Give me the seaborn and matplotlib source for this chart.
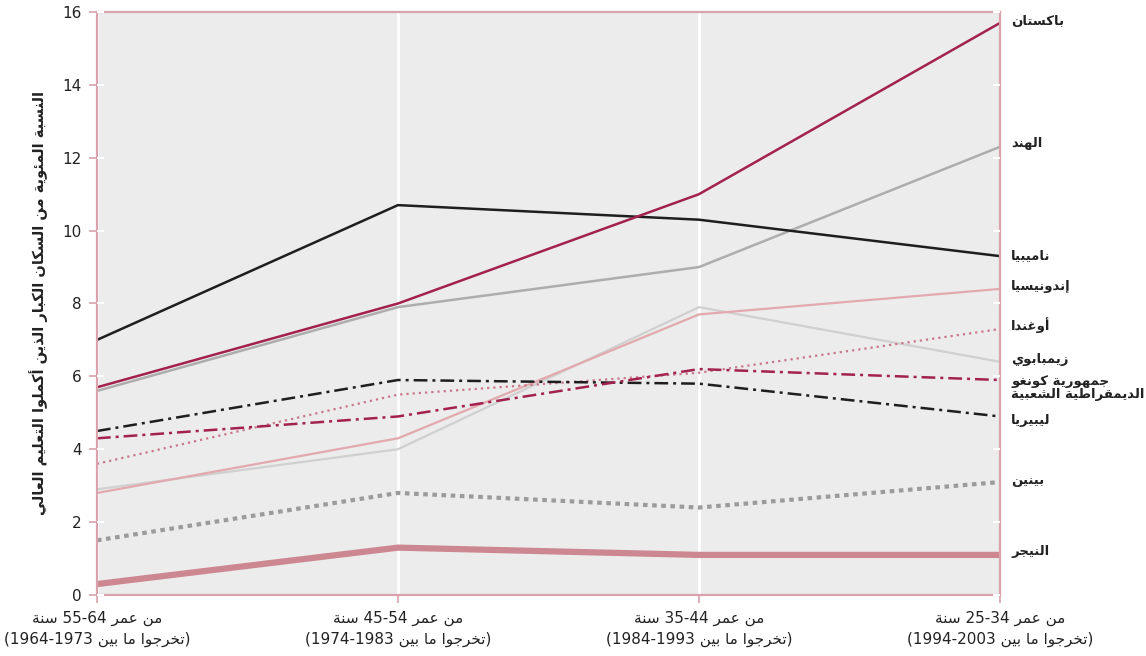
import re
import matplotlib
matplotlib.use('Agg')
import matplotlib.pyplot as plt
import pandas as pd
import seaborn as sns

# age groups (oldest -> youngest), values per country
groups = ['55-64', '45-54', '35-44', '25-34']
group_labels = [
    ('من عمر 55-64 سنة', '(تخرجوا ما بين 1964-1973)'),
    ('من عمر 45-54 سنة', '(تخرجوا ما بين 1974-1983)'),
    ('من عمر 35-44 سنة', '(تخرجوا ما بين 1984-1993)'),
    ('من عمر 25-34 سنة', '(تخرجوا ما بين 1994-2003)'),
]

countries = ['Niger', 'Benin', 'Zimbabwe', 'Indonesia', 'Uganda', 'Liberia',
             'Congo', 'India', 'Namibia', 'Pakistan']
country_names = {
    'Pakistan': ['باكستان'],
    'India': ['الهند'],
    'Namibia': ['ناميبيا'],
    'Indonesia': ['إندونيسيا'],
    'Uganda': ['أوغندا'],
    'Zimbabwe': ['زيمبابوي'],
    'Congo': ['جمهورية كونغو', 'الديمقراطية الشعبية'],
    'Liberia': ['ليبيريا'],
    'Benin': ['بينين'],
    'Niger': ['النيجر'],
}
pakistan = [5.7, 8.0, 11.0, 15.7]
india = [5.6, 7.9, 9.0, 12.3]
namibia = [7.0, 10.7, 10.3, 9.3]
indonesia = [2.8, 4.3, 7.7, 8.4]
uganda = [3.6, 5.5, 6.1, 7.3]
zimbabwe = [2.9, 4.0, 7.9, 6.4]
congo = [4.3, 4.9, 6.2, 5.9]
liberia = [4.5, 5.9, 5.8, 4.9]
benin = [1.5, 2.8, 2.4, 3.1]
niger = [0.3, 1.3, 1.1, 1.1]
values = {'Pakistan': pakistan, 'India': india, 'Namibia': namibia,
          'Indonesia': indonesia, 'Uganda': uganda, 'Zimbabwe': zimbabwe,
          'Congo': congo, 'Liberia': liberia, 'Benin': benin, 'Niger': niger}

ylabel = 'النسبة المئوية من السكان الكبار الذين أكملوا التعليم العالي'

# styling per country
colors = {'Pakistan': '#A3214F', 'India': '#ADADAD', 'Namibia': '#1E1E1E',
          'Indonesia': '#E2A9AE', 'Uganda': '#C8788A', 'Zimbabwe': '#D0D0D0',
          'Congo': '#A3214F', 'Liberia': '#1E1E1E', 'Benin': '#9B9B9B',
          'Niger': '#CC8790'}
widths = {'Pakistan': 1.8, 'India': 1.8, 'Namibia': 1.8, 'Indonesia': 1.6,
          'Uganda': 1.6, 'Zimbabwe': 1.6, 'Congo': 1.8, 'Liberia': 1.8,
          'Benin': 3.0, 'Niger': 4.5}
styles = {'Uganda': (0, (1, 1.8)), 'Benin': (0, (1.1, 1.1)),
          'Congo': (0, (5.5, 2, 1.2, 2)), 'Liberia': (0, (5.5, 2, 1.2, 2))}
label_y = {'Pakistan': 15.75, 'India': 12.38, 'Namibia': 9.33, 'Indonesia': 8.48,
           'Uganda': 7.41, 'Zimbabwe': 6.45, 'Congo': 5.68, 'Liberia': 4.8,
           'Benin': 3.13, 'Niger': 1.2}

# --- minimal arabic shaping (matplotlib has no bidi / shaping) ---
AR_FORMS = {
    'ء': (0xFE80, 1), 'آ': (0xFE81, 2), 'أ': (0xFE83, 2), 'ؤ': (0xFE85, 2),
    'إ': (0xFE87, 2), 'ئ': (0xFE89, 4), 'ا': (0xFE8D, 2), 'ب': (0xFE8F, 4),
    'ة': (0xFE93, 2), 'ت': (0xFE95, 4), 'ث': (0xFE99, 4), 'ج': (0xFE9D, 4),
    'ح': (0xFEA1, 4), 'خ': (0xFEA5, 4), 'د': (0xFEA9, 2), 'ذ': (0xFEAB, 2),
    'ر': (0xFEAD, 2), 'ز': (0xFEAF, 2), 'س': (0xFEB1, 4), 'ش': (0xFEB5, 4),
    'ص': (0xFEB9, 4), 'ض': (0xFEBD, 4), 'ط': (0xFEC1, 4), 'ظ': (0xFEC5, 4),
    'ع': (0xFEC9, 4), 'غ': (0xFECD, 4), 'ف': (0xFED1, 4), 'ق': (0xFED5, 4),
    'ك': (0xFED9, 4), 'ل': (0xFEDD, 4), 'م': (0xFEE1, 4), 'ن': (0xFEE5, 4),
    'ه': (0xFEE9, 4), 'و': (0xFEED, 2), 'ى': (0xFEEF, 2), 'ي': (0xFEF1, 4),
}
LAM_ALEF = {'آ': 0xFEF5, 'أ': 0xFEF7, 'إ': 0xFEF9, 'ا': 0xFEFB}


def shape(text):
    units = []
    i = 0
    while i < len(text):
        c = text[i]
        if c == 'ل' and i + 1 < len(text) and text[i + 1] in LAM_ALEF:
            units.append((LAM_ALEF[text[i + 1]], 2))
            i += 2
        elif c in AR_FORMS:
            units.append(AR_FORMS[c])
            i += 1
        else:
            units.append(c)
            i += 1
    out = []
    for k, u in enumerate(units):
        if isinstance(u, str):
            out.append(u)
            continue
        code, n = u
        prev = units[k - 1] if k > 0 else None
        nxt = units[k + 1] if k + 1 < len(units) else None
        jp = n > 1 and isinstance(prev, tuple) and prev[1] == 4
        jn = n == 4 and isinstance(nxt, tuple) and nxt[1] > 1
        off = 3 if (jp and jn) else 1 if jp else 2 if jn else 0
        out.append(chr(code + off))
    return ''.join(out)


def ar(text):
    lines = []
    for line in text.split('\n'):
        toks = re.findall(r'[0-9][0-9\-]*[0-9]|.', shape(line))
        mirror = {'(': ')', ')': '('}
        lines.append(''.join(mirror.get(t, t) for t in reversed(toks)))
    return '\n'.join(lines)


sns.set_style('whitegrid', {'axes.facecolor': '#ECECEC', 'grid.color': 'white'})
plt.rcParams['font.family'] = ['DejaVu Sans']

rows = []
for c in countries:
    for g, v in zip(groups, values[c]):
        rows.append({'country': c, 'group': g, 'value': v})
df = pd.DataFrame(rows)

fig = plt.figure(figsize=(11.46, 6.56), dpi=100)
ax = fig.add_axes([0.0846, 0.093, 0.7880, 0.8887])

for c in countries:
    sub = df[df['country'] == c]
    sns.lineplot(data=sub, x='group', y='value', ax=ax, color=colors[c],
                 linewidth=widths[c], linestyle=styles.get(c, '-'),
                 sort=False, legend=False)

ax.set_xlim(0, 3)
ax.set_ylim(0, 16)
ax.set_yticks(range(0, 17, 2))
ax.set_xticks(range(4))
ax.set_xticklabels([ar(a) + '\n' + ar(b) for a, b in group_labels],
                   fontsize=10.5, color='#222222', linespacing=1.5)
ax.set_xlabel('')
ax.set_ylabel(ar(ylabel), fontsize=10.5, fontweight='bold', color='#222222',
              labelpad=10)
ax.grid(axis='x', color='white', linewidth=2)
ax.grid(axis='y', visible=False)

pink = '#D9A2AC'
for s in ax.spines.values():
    s.set_visible(True)
    s.set_color(pink)
    s.set_linewidth(1.6)
ax.tick_params(axis='both', colors=pink, length=6, width=1.2, labelcolor='#222222',
               labelsize=11, pad=5, left=True, bottom=True)

# short white inward ticks on both sides
ax2 = ax.twinx()
ax2.set_ylim(0, 16)
ax2.set_yticks(range(0, 17, 2))
ax2.tick_params(axis='y', direction='in', colors='white', length=5, width=1.5,
                left=True, right=True, labelleft=False, labelright=False)
ax2.grid(False)
for s in ax2.spines.values():
    s.set_visible(False)

for c in countries:
    ax.annotate(ar('\n'.join(country_names[c])), xy=(1, label_y[c]),
                xycoords=('axes fraction', 'data'), xytext=(8, 0),
                textcoords='offset points', ha='left', va='center',
                fontsize=9.5, fontweight='bold', color='#222222',
                linespacing=1.05)

fig.savefig('out.png', dpi=100)
